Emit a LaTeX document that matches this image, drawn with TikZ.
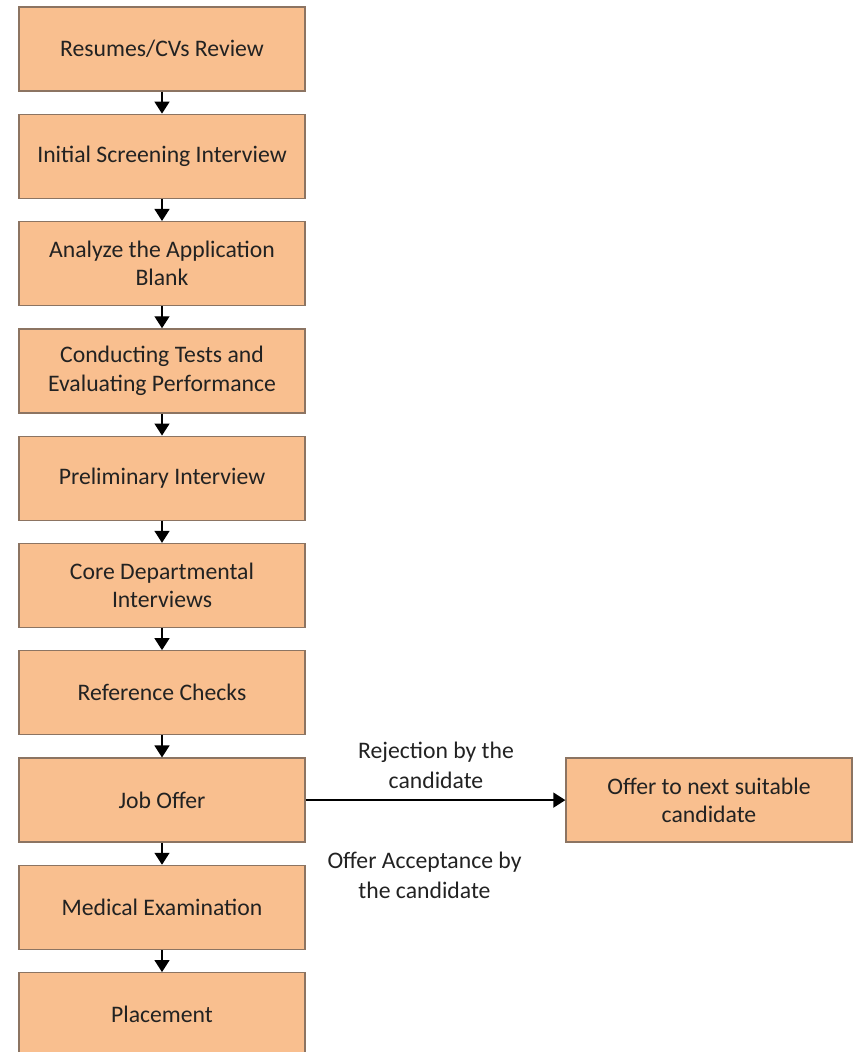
\documentclass[tikz,border=0pt]{standalone}
\usepackage{fontspec}
\setmainfont{Carlito}
\usetikzlibrary{arrows.meta}
\definecolor{boxfill}{HTML}{F9BF8F}
\definecolor{boxline}{HTML}{8C7462}
\definecolor{txt}{HTML}{222222}
\begin{document}
\begin{tikzpicture}[x=1pt,y=-1pt,
  stepbox/.style={draw=boxline, fill=boxfill, line width=1.3pt,
    minimum width=286pt, minimum height=84pt, inner sep=0pt,
    align=center, font=\fontsize{23.7}{28.5}\selectfont, text=txt},
  flow/.style={line width=1.4pt, draw=black,
    -{Triangle[length=12pt,width=15pt]}},
  lbl/.style={align=center, inner sep=0pt,
    font=\fontsize{23.7}{30}\selectfont, text=txt}]
\useasboundingbox (0,0) rectangle (853,1052);

% main selection sequence
\node[stepbox] (n1)  at (162,49)    {Resumes/CVs Review};
\node[stepbox] (n2)  at (162,156.3) {Initial Screening Interview};
\node[stepbox] (n3)  at (162,263.6) {Analyze the Application\\Blank};
\node[stepbox] (n4)  at (162,370.9) {Conducting Tests and\\Evaluating Performance};
\node[stepbox] (n5)  at (162,478.2) {Preliminary Interview};
\node[stepbox] (n6)  at (162,585.5) {Core Departmental\\Interviews};
\node[stepbox] (n7)  at (162,692.8) {Reference Checks};
\node[stepbox] (n8)  at (162,800.1) {Job Offer};
\node[stepbox] (n9)  at (162,907.4) {Medical Examination};
\node[stepbox] (n10) at (162,1014.7) {Placement};

% side branch
\node[stepbox] (alt) at (709,800.1) {Offer to next suitable\\candidate};

\foreach \a/\b in {n1/n2,n2/n3,n3/n4,n4/n5,n5/n6,n6/n7,n7/n8,n8/n9,n9/n10}
  \draw[flow] (\a) -- (\b);
\draw[flow] (n8) -- (alt);

\node[lbl] (rej) at (436,765) {Rejection by the\\candidate};
\node[lbl] (acc) at (424.5,875) {Offer Acceptance by\\the candidate};
\end{tikzpicture}
\end{document}
